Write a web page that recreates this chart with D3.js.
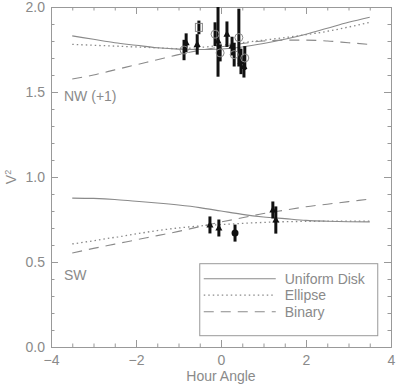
<!DOCTYPE html>
<html>
<head>
<meta charset="utf-8">
<script src="https://cdn.jsdelivr.net/npm/d3@7"></script>
<style>
  body { margin: 0; background: #fff; }
  text { font-family: "Liberation Sans", Arial, sans-serif; fill: #8a8a8a; }
</style>
</head>
<body>
<div class="chart"></div>
<script>
// model curves, hour angle grid
const haGrid = [-3.5, -3, -2.5, -2, -1.5, -1, -0.5, 0, 0.5, 1, 1.5, 2, 2.5, 3, 3.5];
const nwDisk    = [1.83, 1.81, 1.79, 1.775, 1.76, 1.752, 1.75, 1.753, 1.765, 1.785, 1.81, 1.84, 1.875, 1.91, 1.94];
const nwEllipse = [1.78, 1.775, 1.77, 1.765, 1.76, 1.755, 1.762, 1.775, 1.79, 1.805, 1.82, 1.837, 1.857, 1.882, 1.91];
const nwBinary  = [1.576, 1.60, 1.63, 1.66, 1.69, 1.72, 1.745, 1.765, 1.785, 1.80, 1.805, 1.805, 1.80, 1.79, 1.78];
const swDisk    = [0.876, 0.874, 0.868, 0.857, 0.847, 0.835, 0.82, 0.80, 0.78, 0.765, 0.755, 0.745, 0.74, 0.737, 0.736];
const swEllipse = [0.606, 0.625, 0.645, 0.665, 0.685, 0.70, 0.712, 0.72, 0.727, 0.733, 0.737, 0.739, 0.74, 0.74, 0.74];
const swBinary  = [0.553, 0.58, 0.605, 0.63, 0.655, 0.68, 0.708, 0.735, 0.76, 0.785, 0.805, 0.825, 0.84, 0.855, 0.87];

// measured points: hour angle, V2, error, marker
const nwHA   = [-0.87, -0.82, -0.56, -0.52, -0.14, -0.07, -0.02, 0.14, 0.26, 0.31, 0.42, 0.47, 0.54, 0.56];
const nwV2   = [1.747, 1.79, 1.78, 1.88, 1.84, 1.80, 1.73, 1.84, 1.77, 1.72, 1.82, 1.68, 1.65, 1.70];
const nwErr  = [0.06, 0.055, 0.06, 0.04, 0.07, 0.21, 0.05, 0.075, 0.055, 0.07, 0.17, 0.075, 0.065, 0.07];
const nwMark = ['circ', 'tri', 'tri', 'sq', 'circ', 'tri', 'circ', 'tri', 'tri', 'circ', 'circ', 'tri', 'tri', 'circ'];

const swHA   = [-0.26, -0.05, 0.33, 1.22, 1.29];
const swV2   = [0.718, 0.70, 0.67, 0.806, 0.747];
const swErr  = [0.05, 0.05, 0.05, 0.05, 0.08];
const swMark = ['tri', 'tri', 'dot', 'tri', 'tri'];

const xMajor = [-4, -2, 0, 2, 4];
const yMajor = [0, 0.5, 1, 1.5, 2];
const legendLabels = ['Uniform Disk', 'Ellipse', 'Binary'];
const dashes = [null, '1.5,3', '10,7'];

const width = 400, height = 389;
const margin = { top: 7, right: 9, bottom: 42, left: 51 };
const w = width - margin.left - margin.right;
const h = height - margin.top - margin.bottom;

const x = d3.scaleLinear().domain([-4, 4]).range([0, w]);
const y = d3.scaleLinear().domain([0, 2]).range([h, 0]);

const svg = d3.select('.chart').append('svg')
  .attr('width', width).attr('height', height)
  .append('g')
  .attr('transform', `translate(${margin.left},${margin.top})`);

svg.append('clipPath').attr('id', 'clip')
  .append('rect').attr('width', w).attr('height', h);

// axes: major and minor, mirrored on all sides
const xMinor = d3.range(-4, 4.01, 0.5);
const yMinor = d3.range(0, 2.01, 0.1);
const axes = [
  { a: d3.axisBottom(x).tickValues(xMajor).tickSize(-7).tickPadding(8).tickFormat(d3.format('.0f')), t: `translate(0,${h})` },
  { a: d3.axisBottom(x).tickValues(xMinor).tickSize(-3.5).tickFormat(''), t: `translate(0,${h})` },
  { a: d3.axisTop(x).tickValues(xMajor).tickSize(-7).tickFormat(''), t: 'translate(0,0)' },
  { a: d3.axisTop(x).tickValues(xMinor).tickSize(-3.5).tickFormat(''), t: 'translate(0,0)' },
  { a: d3.axisLeft(y).tickValues(yMajor).tickSize(-7).tickPadding(6).tickFormat(d3.format('.1f')), t: 'translate(0,0)' },
  { a: d3.axisLeft(y).tickValues(yMinor).tickSize(-3.5).tickFormat(''), t: 'translate(0,0)' },
  { a: d3.axisRight(y).tickValues(yMajor).tickSize(-7).tickFormat(''), t: `translate(${w},0)` },
  { a: d3.axisRight(y).tickValues(yMinor).tickSize(-3.5).tickFormat(''), t: `translate(${w},0)` }
];
axes.forEach(ax => {
  const g = svg.append('g').attr('transform', ax.t).call(ax.a.tickSizeOuter(0));
  g.selectAll('line, path').attr('stroke', '#999');
  g.selectAll('text').attr('fill', '#8a8a8a')
    .style('font-family', '"Liberation Sans", Arial, sans-serif')
    .style('font-size', '14px');
});

// axis titles
svg.append('text')
  .attr('x', x(0)).attr('y', h + 34)
  .attr('text-anchor', 'middle').style('font-size', '14px')
  .text('Hour Angle');
svg.append('text')
  .attr('transform', `translate(${-35},${y(1)}) rotate(-90)`)
  .attr('text-anchor', 'middle').style('font-size', '14px')
  .html('V<tspan dy="-5" font-size="9">2</tspan>');

// labels
svg.append('text').attr('x', 13).attr('y', y(1.45)).style('font-size', '14px').text('NW (+1)');
svg.append('text').attr('x', 13).attr('y', y(0.395)).style('font-size', '14px').text('SW');

// model curves
const line = d3.line().x((d, i) => x(haGrid[i])).y(d => y(d)).curve(d3.curveMonotoneX);
const curves = [[nwDisk, 0], [nwEllipse, 1], [nwBinary, 2], [swDisk, 0], [swEllipse, 1], [swBinary, 2]];
svg.append('g').attr('class', 'curves')
  .selectAll('path').data(curves).enter().append('path')
  .attr('d', d => line(d[0]))
  .attr('fill', 'none')
  .attr('stroke', '#8a8a8a')
  .attr('stroke-width', d => d[1] === 1 ? 1.3 : 1.1)
  .attr('stroke-dasharray', d => dashes[d[1]]);

// measured points
const drawPoints = (ha, v2, err, mark) => {
  const pts = ha.map((d, i) => ({ ha: d, v: v2[i], e: err[i], m: mark[i] }));
  const g = svg.append('g').attr('clip-path', 'url(#clip)');
  g.selectAll('line').data(pts).enter().append('line')
    .attr('x1', d => x(d.ha)).attr('x2', d => x(d.ha))
    .attr('y1', d => y(d.v - d.e)).attr('y2', d => y(d.v + d.e))
    .attr('stroke', '#111').attr('stroke-width', 3);
  pts.forEach(d => {
    const cx = x(d.ha), cy = y(d.v);
    if (d.m === 'tri') {
      g.append('path').attr('d', `M${cx},${cy - 4}L${cx + 3.5},${cy + 2.5}L${cx - 3.5},${cy + 2.5}Z`)
        .attr('fill', '#111');
    } else if (d.m === 'dot') {
      g.append('circle').attr('cx', cx).attr('cy', cy).attr('r', 3.5).attr('fill', '#111');
    } else if (d.m === 'circ') {
      g.append('circle').attr('cx', cx).attr('cy', cy).attr('r', 4)
        .attr('fill', 'none').attr('stroke', '#888').attr('stroke-width', 1);
    } else {
      g.append('rect').attr('x', cx - 3.5).attr('y', cy - 4).attr('width', 7).attr('height', 8)
        .attr('fill', 'none').attr('stroke', '#888').attr('stroke-width', 1);
    }
  });
};
drawPoints(nwHA, nwV2, nwErr, nwMark);
drawPoints(swHA, swV2, swErr, swMark);

// legend
const legend = svg.append('g').attr('transform', `translate(${x(-0.5)},${y(0.49)})`);
legend.append('rect').attr('width', 178).attr('height', 72)
  .attr('fill', '#fff').attr('stroke', '#999');
legendLabels.forEach((lab, i) => {
  legend.append('line')
    .attr('x1', 4).attr('x2', 76).attr('y1', 15 + i * 16.5).attr('y2', 15 + i * 16.5)
    .attr('stroke', '#8a8a8a').attr('stroke-width', i === 1 ? 1.3 : 1.1)
    .attr('stroke-dasharray', dashes[i]);
  legend.append('text').attr('x', 85).attr('y', 20 + i * 16.5)
    .style('font-size', '14px').text(lab);
});
</script>
</body>
</html>
